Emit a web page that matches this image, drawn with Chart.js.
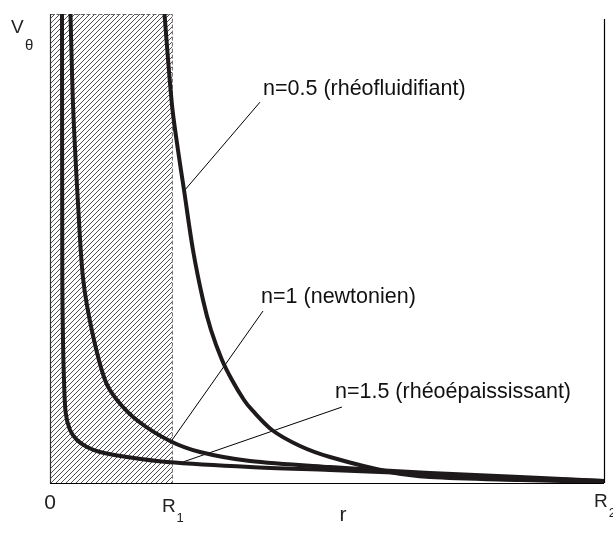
<!DOCTYPE html>
<html>
<head>
<meta charset="utf-8">
<script src="https://cdn.jsdelivr.net/npm/chart.js@4/dist/chart.umd.min.js"></script>
<style>
  body { margin: 0; background: #fff; }
  canvas { display: block; }
</style>
</head>
<body>
<canvas id="myChart" width="613" height="547"></canvas>
<script>
// r is scaled so that R2 = 1, v is scaled so the top of the frame is 1
const R1 = 0.22;
const R2 = 1;
const xTickValues = [0, R1, R2];
const xTickLabels = ["0", "R", "R"];
const xTickSubs = ["", "1", "2"];

// n = 1.5 (rhéoépaississant)
const rN15 = [0.0216, 0.02166, 0.0222, 0.02347, 0.02527, 0.02834, 0.0361, 0.0487, 0.0668, 0.0903, 0.139, 0.2112, 0.361, 0.5054, 0.686, 0.848, 1.0];
const vN15 = [1.03, 1.0, 0.4328, 0.3049, 0.2196, 0.1493, 0.113, 0.0917, 0.0768, 0.0661, 0.0554, 0.0448, 0.0341, 0.0277, 0.0192, 0.0107, 0.0043];

// n = 1 (newtonien)
const rN1 = [0.0368, 0.0370, 0.0388, 0.0412, 0.0451, 0.0505, 0.0596, 0.0758, 0.0993, 0.1209, 0.1588, 0.2166, 0.2708, 0.361, 0.5054, 0.686, 0.848, 1.0];
const vN1 = [1.03, 1.0, 0.9168, 0.8166, 0.7143, 0.597, 0.4371, 0.3241, 0.2196, 0.177, 0.1322, 0.0896, 0.0661, 0.0469, 0.0341, 0.0213, 0.0128, 0.0043];

// n = 0.5 (rhéofluidifiant)
const rN05 = [0.2055, 0.2067, 0.2202, 0.2310, 0.2419, 0.2581, 0.2762, 0.2906, 0.3105, 0.3285, 0.3502, 0.3646, 0.4007, 0.4513, 0.5054, 0.6137, 0.686, 0.848, 1.0];
const vN05 = [1.03, 1.0, 0.806, 0.710, 0.6247, 0.4968, 0.3902, 0.3262, 0.2623, 0.2196, 0.177, 0.1557, 0.113, 0.0789, 0.0554, 0.0235, 0.0128, 0.0064, 0.0021];

// label text, anchor (left, baseline) and leader line end points
const labelTexts = ["n=0.5 (rhéofluidifiant)", "n=1 (newtonien)", "n=1.5 (rhéoépaississant)"];
const labelR = [0.3845, 0.381, 0.5144];
const labelV = [0.827, 0.384, 0.181];
const leaderR = [[0.379, 0.2437], [0.3845, 0.2166], [0.527, 0.240]];
const leaderV = [[0.812, 0.625], [0.3667, 0.0853], [0.162, 0.0448]];

const toPts = (xs, ys) => xs.map((x, i) => ({x: x, y: ys[i]}));
const ink = "#1e1a1b";

const curve = (data) => ({
    data: data,
    showLine: true,
    borderColor: ink,
    borderWidth: 4,
    pointRadius: 0,
    tension: 0.3,
    clip: {left: false, top: 0, right: false, bottom: false}
});

const leader = (i) => ({
    data: toPts(leaderR[i], leaderV[i]),
    showLine: true,
    borderColor: "#000",
    borderWidth: 1,
    pointRadius: 0
});

const hatchPlugin = {
    id: "hatch",
    beforeDatasetsDraw(chart) {
        const {ctx} = chart;
        const xs = chart.scales.x, ys = chart.scales.y;
        const left = xs.getPixelForValue(0);
        const right = xs.getPixelForValue(R1);
        const top = ys.getPixelForValue(1);
        const bottom = ys.getPixelForValue(0);
        const w = right - left, h = bottom - top;
        ctx.save();
        ctx.beginPath();
        ctx.rect(left, top, w, h);
        ctx.clip();
        ctx.strokeStyle = "#3a3a3a";
        ctx.lineWidth = 0.9;
        ctx.beginPath();
        for (let d = -h; d < w + 5; d += 5) {
            ctx.moveTo(left + d, bottom);
            ctx.lineTo(left + d + h, top);
        }
        ctx.stroke();
        ctx.restore();

        ctx.save();
        ctx.strokeStyle = "#666";
        ctx.lineWidth = 1;
        ctx.setLineDash([4, 2]);
        ctx.strokeRect(left + 0.5, top + 0.5, w, h);
        ctx.restore();
    },
    afterDatasetsDraw(chart) {
        const {ctx} = chart;
        const xs = chart.scales.x, ys = chart.scales.y;
        const x0 = xs.getPixelForValue(0);
        const x2 = xs.getPixelForValue(R2);
        const y0 = ys.getPixelForValue(0);
        const y1 = ys.getPixelForValue(1);

        ctx.save();
        // frame: left, bottom and right
        ctx.strokeStyle = "#333";
        ctx.lineWidth = 1.2;
        ctx.beginPath();
        ctx.moveTo(x0 + 0.5, y1);
        ctx.lineTo(x0 + 0.5, y0);
        ctx.stroke();
        ctx.strokeStyle = "#000";
        ctx.beginPath();
        ctx.moveTo(x0, y0 + 0.5);
        ctx.lineTo(x2, y0 + 0.5);
        ctx.moveTo(x2 + 0.5, y0);
        ctx.lineTo(x2 + 0.5, y1 + 5);
        ctx.stroke();

        // tick labels
        ctx.fillStyle = "#222";
        ctx.textBaseline = "alphabetic";
        xTickValues.forEach((v, i) => {
            const px = xs.getPixelForValue(v);
            if (i === 0) {
                ctx.font = "21px 'Liberation Sans', Arial, sans-serif";
                ctx.textAlign = "center";
                ctx.fillText(xTickLabels[i], px, y0 + 26);
                return;
            }
            const base = i === 1 ? y0 + 29 : y0 + 24;
            ctx.font = "19px 'Liberation Sans', Arial, sans-serif";
            ctx.textAlign = "left";
            const left = px - 10;
            ctx.fillText(xTickLabels[i], left, base);
            const w = ctx.measureText(xTickLabels[i]).width;
            ctx.font = "13px 'Liberation Sans', Arial, sans-serif";
            ctx.fillText(xTickSubs[i], left + w + 1, base + 10);
        });

        // axis titles
        ctx.font = "21px 'Liberation Sans', Arial, sans-serif";
        ctx.textAlign = "center";
        ctx.fillText("r", (x0 + x2) / 2 + 16, y0 + 38);
        ctx.textAlign = "left";
        ctx.font = "19px 'Liberation Sans', Arial, sans-serif";
        ctx.fillText("V", 11, 33);
        ctx.font = "15px 'Liberation Sans', Arial, sans-serif";
        ctx.fillText("θ", 25, 50);

        // curve labels
        ctx.font = "21.5px 'Liberation Sans', Arial, sans-serif";
        ctx.fillStyle = "#111";
        labelTexts.forEach((t, i) => {
            ctx.fillText(t, xs.getPixelForValue(labelR[i]), ys.getPixelForValue(labelV[i]));
        });
        ctx.restore();
    }
};

const ctx = document.getElementById("myChart").getContext("2d");
new Chart(ctx, {
    type: "scatter",
    data: {
        datasets: [
            curve(toPts(rN15, vN15)),
            curve(toPts(rN1, vN1)),
            curve(toPts(rN05, vN05)),
            leader(0),
            leader(1),
            leader(2)
        ]
    },
    options: {
        responsive: false,
        animation: false,
        devicePixelRatio: 1,
        layout: {padding: {left: 50, right: 9, top: 14, bottom: 64}},
        plugins: {legend: {display: false}, tooltip: {enabled: false}},
        scales: {
            x: {type: "linear", min: 0, max: 1, display: false},
            y: {type: "linear", min: 0, max: 1, display: false}
        }
    },
    plugins: [hatchPlugin]
});
</script>
</body>
</html>
